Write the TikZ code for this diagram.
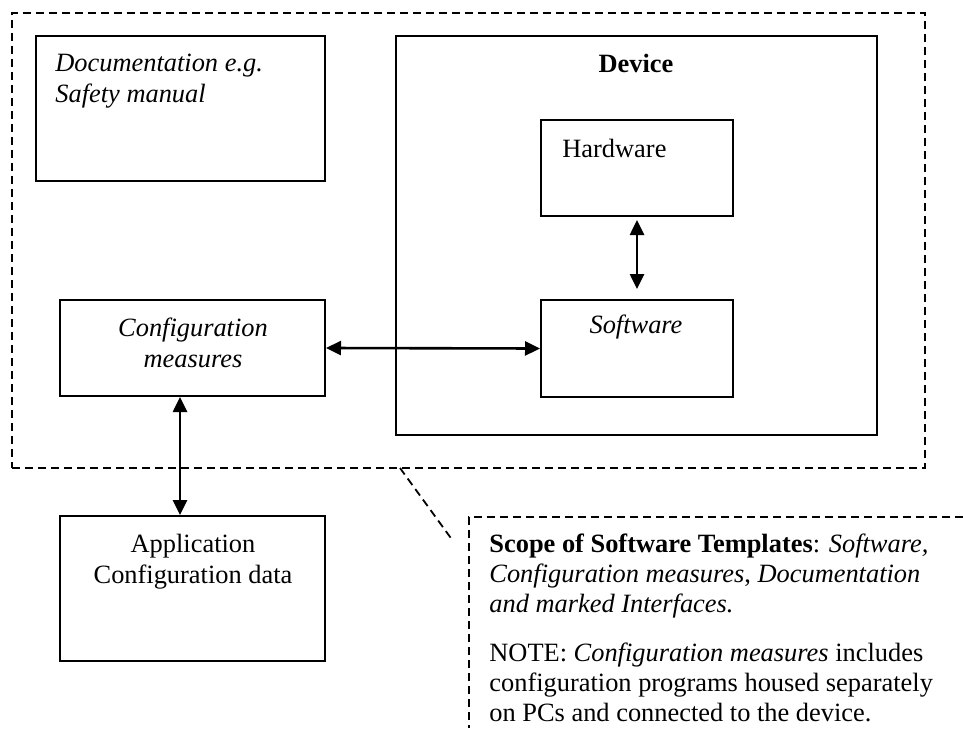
\documentclass[tikz,border=0pt]{standalone}
\usepackage{fontspec}
\setmainfont{Liberation Serif}
\usetikzlibrary{arrows.meta,fit}
\tikzset{
  box/.style={draw, line width=1pt, inner sep=0pt},
  scopeline/.style={draw, line width=0.9pt, dash pattern=on 4pt off 2.5pt},
  link/.style={line width=1.3pt, {Triangle[length=7.5pt,width=7pt]}-{Triangle[length=7.5pt,width=7pt]}},
  txt/.style={inner sep=0pt, font=\fontsize{13.2}{15.2}\selectfont},
  itxt/.style={inner sep=0pt, font=\fontsize{13.2}{15.2}\selectfont\itshape}
}
\begin{document}
\begin{tikzpicture}[x=0.5pt,y=-0.5pt]
\useasboundingbox (0,0) rectangle (963,728);
% dashed scope round the templates
\node[scopeline, inner sep=0pt, fit={(12,13) (925,468)}] (scope) {};
\node[box, fit={(36,36) (325,181)}] (doc) {};
\node[box, fit={(396,36) (877,435)}] (device) {};
\node[box, fit={(541,120) (733,216)}] (hw) {};
\node[box, fit={(541,300) (733,397)}] (sw) {};
\node[box, fit={(60,300) (325,396)}] (conf) {};
\node[box, fit={(60,516) (325,661)}] (app) {};
% texts (base = last line)
\node[itxt, anchor=base west, align=left] (doctxt) at (55,102) {Documentation e.g.\\Safety manual};
\node[txt, font=\fontsize{13.2}{15.2}\selectfont\bfseries, anchor=base] (devtxt) at (636,72) {Device};
\node[txt, anchor=base west] (hwtxt) at (562,157) {Hardware};
\node[itxt, anchor=base] (swtxt) at (636,333) {Software};
\node[itxt, anchor=base, align=center] (conftxt) at (193,367) {Configuration\\measures};
\node[txt, anchor=base, align=center] (apptxt) at (193,583) {Application\\Configuration data};
% links
\draw[link] (conf.east) -- (sw.west);
\draw[link, shorten <=1.5pt, shorten >=5pt] (hw.south) -- (sw.north);
\draw[link] ([xshift=-6.25pt]conf.south) -- ([xshift=-6.25pt]app.north);
% callout
\coordinate (tail) at (400,468);
\coordinate (head) at (453,541);
\coordinate (corner) at (469,517);
\draw[scopeline] (tail) -- (head);
\draw[scopeline] (963,517) -- (corner) -- (469,728);
\node[txt, font=\fontsize{13.2}{15}\selectfont, anchor=base west, align=left] (note) at (489,721)
  {\textbf{Scope of Software Templates}: \textit{Software,}\\
   \textit{Configuration measures}, \textit{Documentation}\\
   \textit{and marked Interfaces.}\\[9.5pt]
   NOTE: \textit{Configuration measures} includes\\
   configuration programs housed separately\\
   on PCs and connected to the device.};
\end{tikzpicture}
\end{document}
